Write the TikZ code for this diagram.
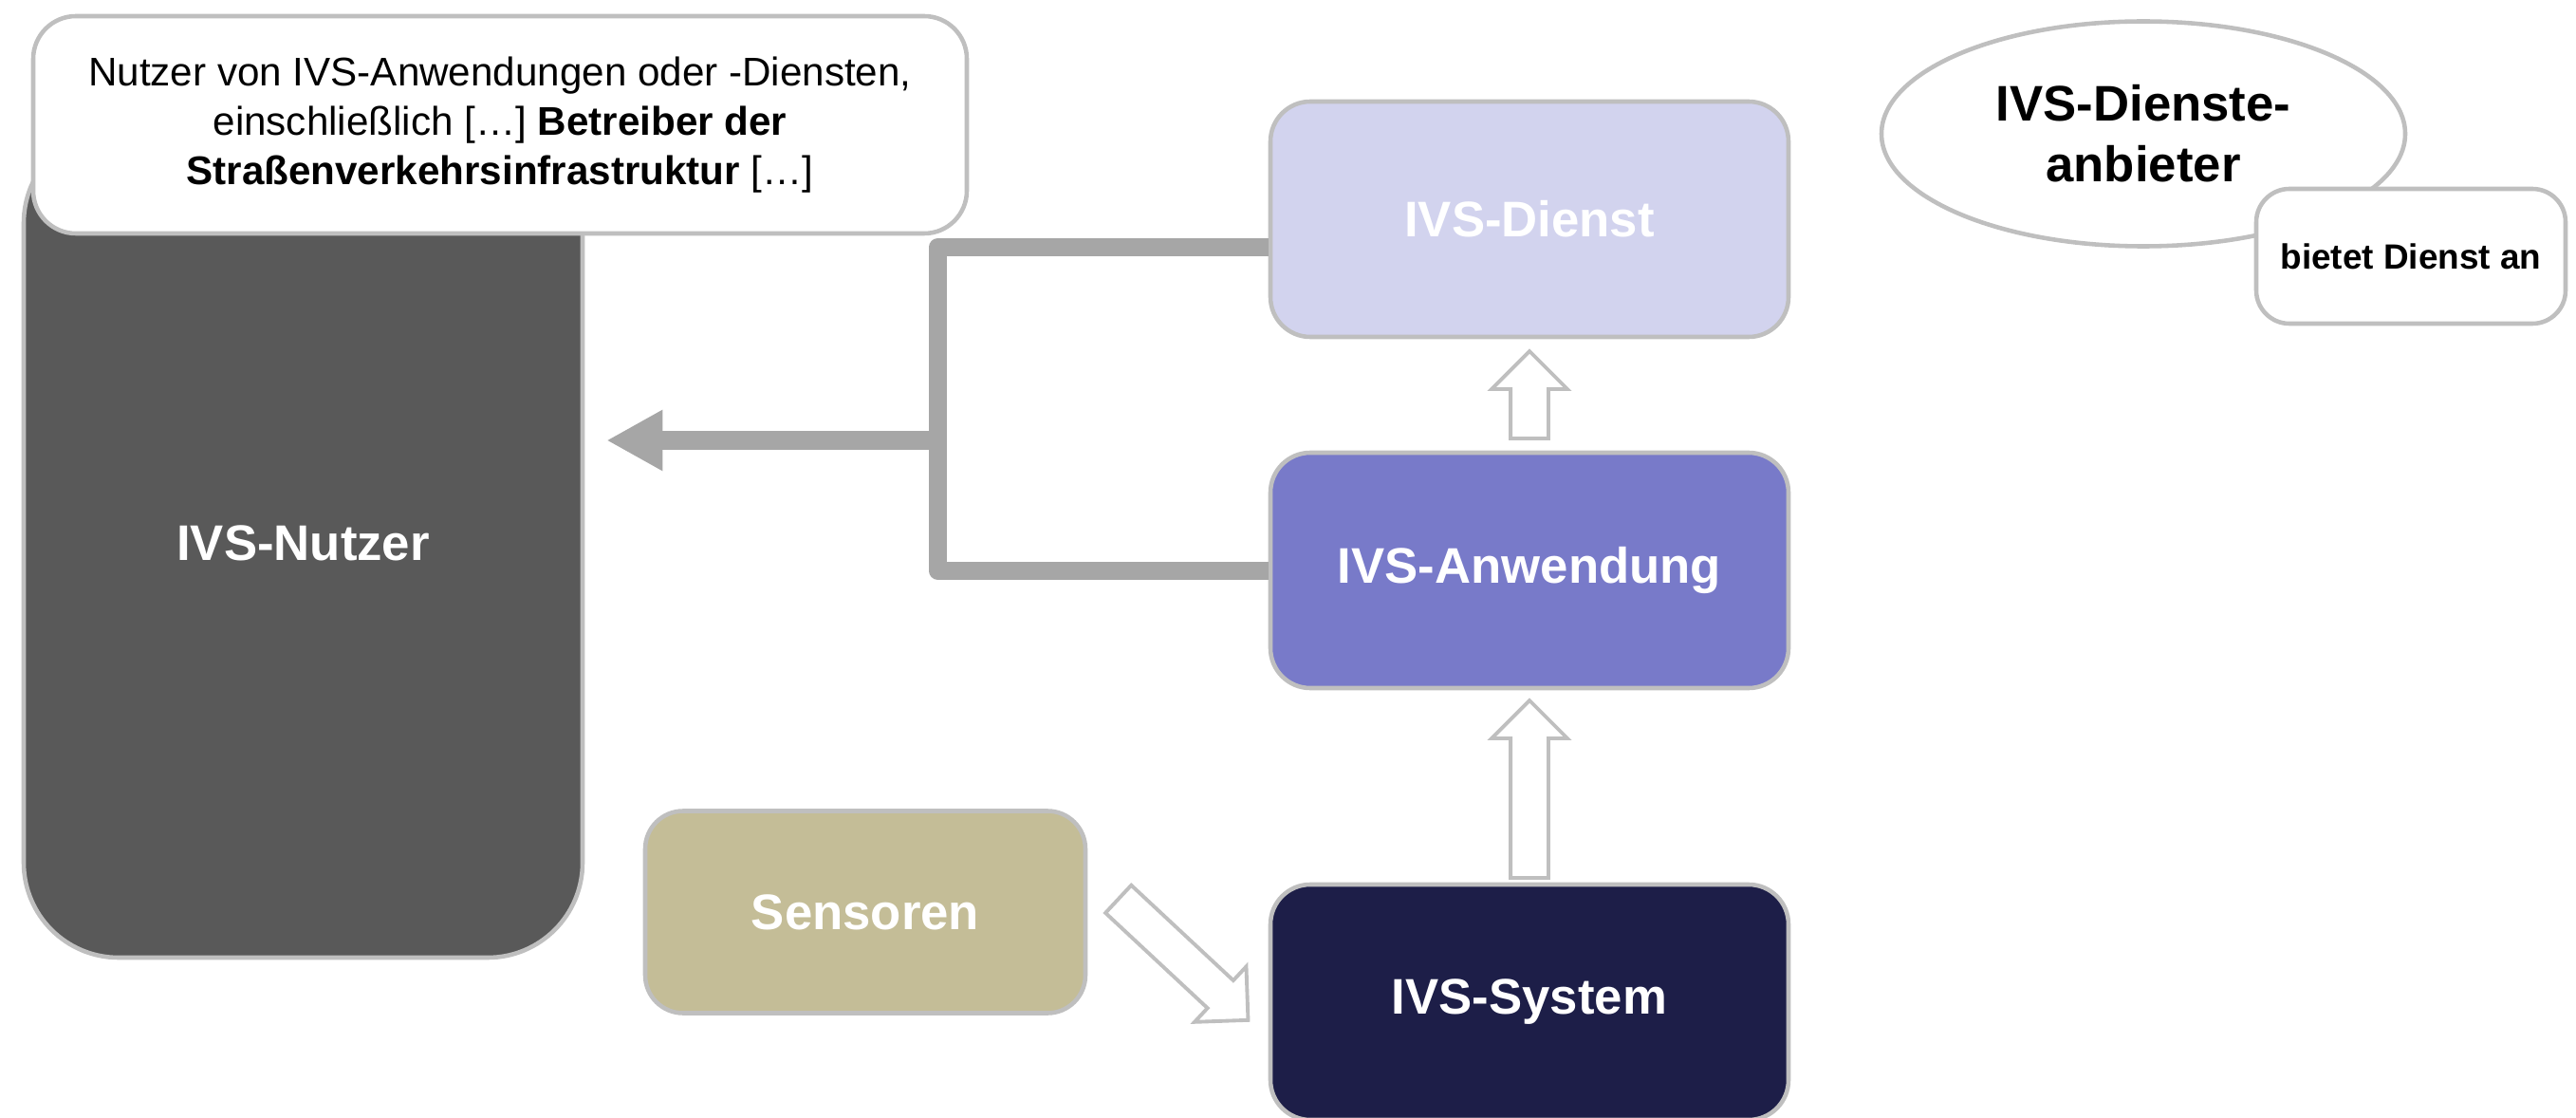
\documentclass[tikz,border=0pt]{standalone}
\usepackage{fontspec}
\setmainfont{Liberation Sans}
\usepackage{xcolor}
\usepackage{tikz}
\usetikzlibrary{arrows.meta,calc,shapes.geometric,shapes.arrows}

\definecolor{rahmengrau}{HTML}{BFBFBF}
\definecolor{nutzergrau}{HTML}{595959}
\definecolor{dienstblau}{HTML}{D2D3EE}
\definecolor{anwendungblau}{HTML}{787AC9}
\definecolor{systemblau}{HTML}{1D1E48}
\definecolor{sensorbeige}{HTML}{C4BD97}
\definecolor{pfeilgrau}{HTML}{A6A6A6}

\begin{document}
\begin{tikzpicture}[node distance=3.7cm,
    kasten/.style={draw=rahmengrau, line width=1.3pt, rounded corners=0.42cm, minimum width=5.46cm, minimum height=2.48cm, inner sep=0pt, text=white, align=center, font=\fontsize{15pt}{18pt}\selectfont\bfseries},
    blockpfeil/.style={single arrow, draw=rahmengrau, fill=white, line width=1.1pt, inner xsep=0pt, inner ysep=0.18cm, single arrow head extend=0.2cm, single arrow tip angle=90}]
    \useasboundingbox (0,0) rectangle (27.15,-11.78);

    % IVS-Nutzer
    \node[kasten, fill=nutzergrau, minimum width=5.89cm, minimum height=8.74cm, rounded corners=1cm] (nutzer) at (3.195,-5.72) {IVS-Nutzer};
    \node[kasten, fill=white, text=black, minimum width=9.84cm, minimum height=2.29cm, rounded corners=0.45cm, font=\fontsize{12pt}{14.8pt}\selectfont] (nutzer-info) at (5.27,-1.315) {Nutzer von IVS-Anwendungen oder -Diensten,\\einschließlich […] \textbf{Betreiber der}\\\textbf{Straßenverkehrsinfrastruktur} […]};

    % Dienst, Anwendung, System
    \node[kasten, fill=dienstblau] (dienst) at (16.12,-2.31) {IVS-Dienst};
    \node[kasten, fill=anwendungblau, below of=dienst] (anwendung) {IVS-Anwendung};
    \node[kasten, fill=systemblau, below of=anwendung, yshift=-0.85cm] (system) {IVS-System};
    \node[kasten, fill=sensorbeige, left of=system, xshift=-3.3cm, yshift=0.95cm, minimum width=4.64cm, minimum height=2.13cm, rounded corners=0.4cm] (sensoren) {Sensoren};

    % Blockpfeile
    \node[blockpfeil, minimum height=0.92cm, rotate=90, anchor=tip] (pfeil-oben) at ([yshift=-0.1cm]dienst.south) {};
    \node[blockpfeil, minimum height=1.87cm, rotate=90, anchor=tip] (pfeil-mitte) at ([yshift=-0.08cm]anwendung.south) {};
    \node[blockpfeil, minimum height=1.87cm, rotate=-43, anchor=tail] (pfeil-sensor) at ($(sensoren.east)+(0.31,0.15)$) {};

    % Verbindung zum Nutzer
    \coordinate (knick) at (9.88,-4.64);
    \draw[pfeilgrau, line width=0.19cm, line join=round] ([yshift=-0.3cm]dienst.west) -| (knick) |- (anwendung.west);
    \draw[pfeilgrau, line width=0.19cm, -{Triangle[length=0.59cm, width=0.6cm]}] (knick) -- ($(nutzer.east |- knick)+(0.23,0)$);

    % Anbieter
    \node[draw=rahmengrau, fill=white, line width=1.3pt, ellipse, minimum width=5.52cm, minimum height=2.37cm, inner sep=0pt, align=center, font=\fontsize{15pt}{18.2pt}\selectfont\bfseries] (anbieter) at (22.59,-1.41) {IVS-Dienste-\\anbieter};
    \node[kasten, fill=white, text=black, font=\fontsize{10.5pt}{12pt}\selectfont\bfseries, minimum width=3.26cm, minimum height=1.42cm, rounded corners=0.35cm, right of=anbieter, xshift=-0.88cm, yshift=-1.29cm] (anbieter-info) {bietet Dienst an};
\end{tikzpicture}
\end{document}
